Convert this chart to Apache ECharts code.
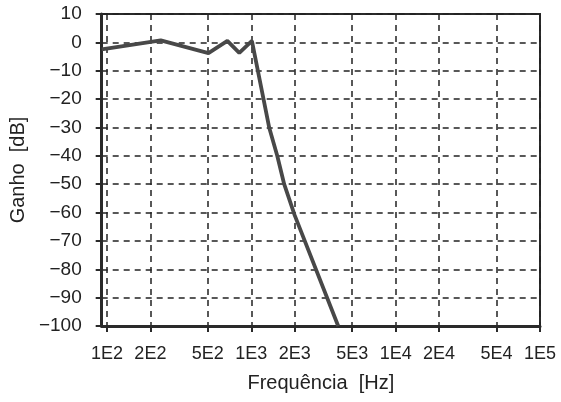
<!DOCTYPE html>
<html><head><meta charset="utf-8">
<script src="https://cdn.jsdelivr.net/npm/echarts@6/dist/echarts.min.js"></script>
<style>html,body{margin:0;padding:0;background:#fff}#c{width:561px;height:402px}</style>
</head><body><div id="c"></div>
<script>
var freqTicks = [100, 200, 500, 1000, 2000, 5000, 10000, 20000, 50000, 100000];
var freqTickLabels = ['1E2','2E2','5E2','1E3','2E3','5E3','1E4','2E4','5E4','1E5'];
var freq = [92, 236, 505, 683, 826, 1010, 1330, 1513, 1690, 2000, 4000];
var gain = [-2.5, 0.7, -3.8, 0.5, -3.7, 0.5, -30, -40, -50, -61, -100];

var labelMap = {};
freqTicks.forEach(function(v,i){ labelMap[v] = freqTickLabels[i]; });
var data = freq.map(function(f,i){ return [f, gain[i]]; });
var font = 'Liberation Sans, Arial, sans-serif';
var chart = echarts.init(document.getElementById('c'));
chart.setOption({
  animation: false,
  backgroundColor: '#fff',
  grid: { left: 99, right: 21, top: 14, bottom: 76, show: true, borderColor: '#2a2a2a', borderWidth: 2, backgroundColor: 'transparent' },
  xAxis: {
    type: 'log', logBase: 10, min: 92, max: 100000,
    name: 'Frequência  [Hz]', nameLocation: 'middle', nameGap: 47,
    nameTextStyle: { fontFamily: font, fontSize: 20, color: '#222' },
    axisLine: { show: true, onZero: false, lineStyle: { color: '#2a2a2a', width: 3 } },
    axisTick: { show: true, customValues: freqTicks, length: 6, lineStyle: { color: '#2a2a2a', width: 2 } },
    axisLabel: { customValues: freqTicks, fontFamily: font, fontSize: 18, color: '#222', margin: 19,
      formatter: function(v){ return labelMap[Math.round(v)] || ''; } },
    splitLine: { show: true, lineStyle: { color: '#222', width: 1.5, type: [6,5] } },
    minorSplitLine: { show: false }
  },
  yAxis: {
    type: 'value', min: -100, max: 10, interval: 10,
    name: 'Ganho  [dB]', nameLocation: 'middle', nameGap: 72, nameRotate: 90,
    nameTextStyle: { fontFamily: font, fontSize: 20, color: '#222' },
    axisLine: { show: true, onZero: false, lineStyle: { color: '#2a2a2a', width: 3 } },
    axisTick: { show: true, length: 6, lineStyle: { color: '#2a2a2a', width: 2 } },
    axisLabel: { fontFamily: font, fontSize: 19, color: '#222', margin: 20,
      formatter: function(v){ return String(v).replace('-', '\u2212'); } },
    splitLine: { show: true, lineStyle: { color: '#222', width: 1.5, type: [6,5] } }
  },
  series: [{
    type: 'line', data: data, showSymbol: false, symbol: 'none',
    lineStyle: { color: '#484848', width: 3.8 }, z: 5
  }]
});
</script></body></html>
